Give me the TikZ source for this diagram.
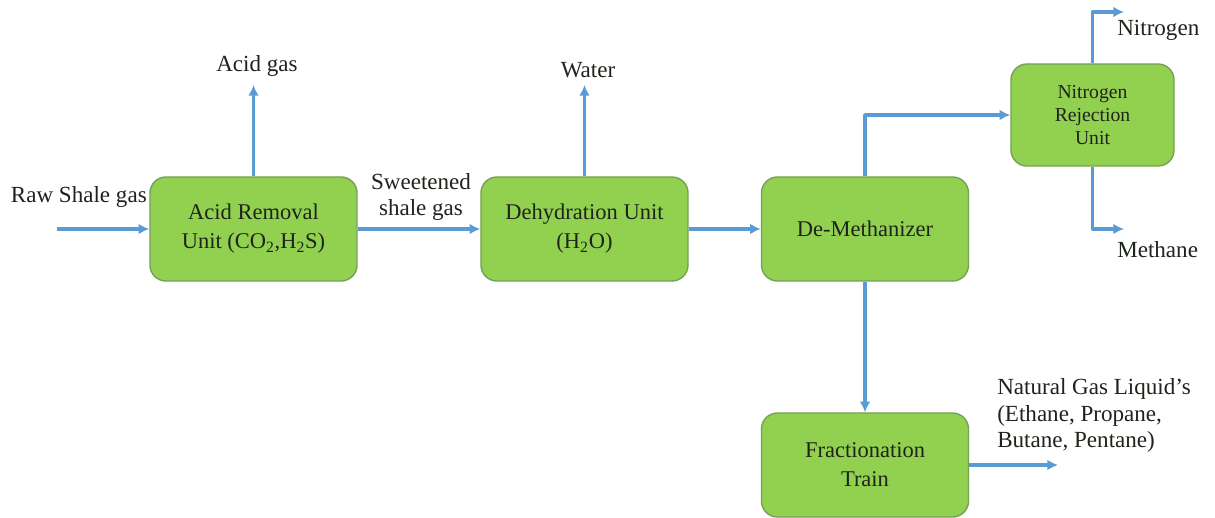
\documentclass[tikz,border=0pt]{standalone}
\usepackage{fontspec}
\setmainfont{Liberation Serif}
\usetikzlibrary{arrows.meta}
\definecolor{boxgreen}{RGB}{146,208,80}
\definecolor{boxedge}{RGB}{118,160,88}
\definecolor{flowblue}{RGB}{91,155,213}
\definecolor{txt}{RGB}{30,36,28}
\begin{document}
\begin{tikzpicture}[x=0.025cm,y=-0.025cm,
  unitbox/.style={draw=boxedge, line width=1pt, fill=boxgreen, rounded corners=0.4cm,
    minimum width=5.175cm, minimum height=2.6cm, align=center, inner sep=0pt,
    font=\fontsize{16}{20.5}\selectfont, text=txt},
  smallbox/.style={unitbox, minimum width=4.075cm, minimum height=2.55cm,
    font=\fontsize{14}{16.3}\selectfont},
  flow/.style={draw=flowblue, line width=2.5pt, line join=round,
    -{Latex[length=7.5pt,width=7.5pt]}},
  lbl/.style={font=\fontsize{16.4}{19}\selectfont, text=txt, inner sep=0pt}]
\clip (0,0) rectangle (1215,518);
\fill[white] (0,0) rectangle (1215,518);

% units
\node[unitbox] (acid) at (253.5,229) {Acid Removal\\Unit (CO\textsubscript{2},H\textsubscript{2}S)};
\node[unitbox] (dehy) at (584.5,229) {Dehydration Unit\\(H\textsubscript{2}O)};
\node[unitbox] (demeth) at (865,229) {De-Methanizer};
\node[smallbox] (nru) at (1092.5,115) {Nitrogen\\Rejection\\Unit};
\node[unitbox] (frac) at (865,465) {Fractionation\\Train};

% labels
\node[lbl, anchor=east] (raw) at (147,197) {Raw Shale gas};
\node[lbl] (acidgas) at (257,66) {Acid gas};
\node[lbl, align=center, font=\fontsize{16.4}{18.5}\selectfont] (sweet) at (421,197) {Sweetened\\shale gas};
\node[lbl] (water) at (588,70) {Water};
\node[lbl, anchor=west] (nitro) at (1117,30) {Nitrogen};
\node[lbl, anchor=west] (meth) at (1117,250) {Methane};
\node[lbl, anchor=north west, align=left, font=\fontsize{16.4}{19}\selectfont] (ngl) at (997,378) {Natural Gas Liquid’s\\(Ethane, Propane,\\Butane, Pentane)};

% free ends
\coordinate (rawin) at (57,229);
\coordinate (acidout) at (253.5,85);
\coordinate (waterout) at (584.5,85);
\coordinate (nitroout) at (1124,12);
\coordinate (methout) at (1124,229);
\coordinate (nglout) at (1058,465);

% connectors
\draw[flow] (rawin) -- (acid.west);
\draw[flow] (acid.north) -- (acidout);
\draw[flow] (acid.east) -- (dehy.west);
\draw[flow] (dehy.north) -- (waterout);
\draw[flow] (dehy.east) -- (demeth.west);
\draw[flow] (demeth.north) |- (nru.west);
\draw[flow] (nru.north) |- (nitroout);
\draw[flow] (nru.south) |- (methout);
\draw[flow] (demeth.south) -- (frac.north);
\draw[flow] (frac.east) -- (nglout);
\end{tikzpicture}
\end{document}
